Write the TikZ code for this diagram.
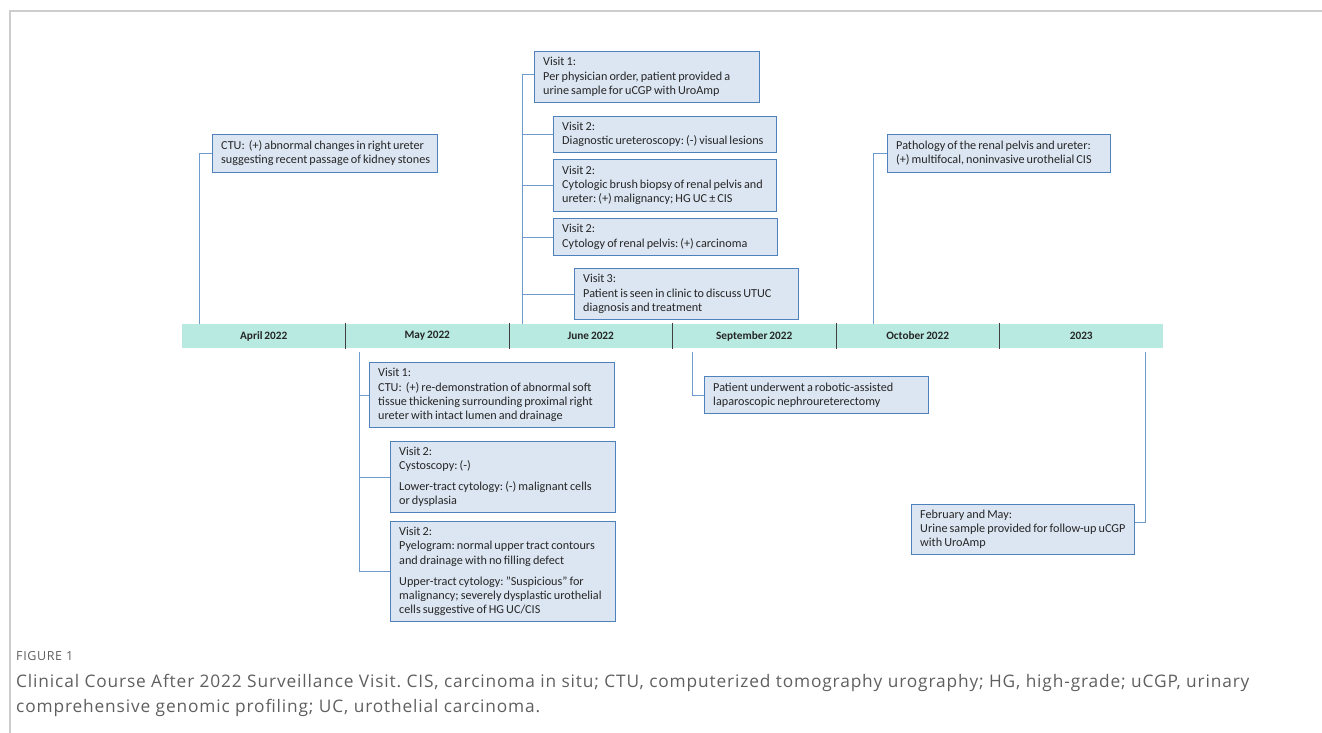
\documentclass[tikz,border=0pt]{standalone}
\usepackage{fontspec}
\setmainfont{Carlito}[WordSpace=0.75]
\newfontfamily\capfont{Open Sans}[LetterSpace=5]
\definecolor{barfill}{RGB}{184,234,226}
\definecolor{boxfill}{RGB}{220,230,242}
\definecolor{boxline}{RGB}{79,129,189}
\definecolor{connc}{RGB}{110,155,205}
\definecolor{framec}{RGB}{205,205,205}
\definecolor{captxt}{RGB}{95,95,95}
\frenchspacing
\newcommand\evbox[6]{%
  \node[evtbox, minimum width=#4pt, minimum height=#5pt] (#1) at (#2,#3) {};
  \node[evttext] (#1t) at ([xshift=9pt]#1.west) {#6};}
\begin{document}
\begin{tikzpicture}[x=1pt,y=-1pt,
  evtbox/.style={draw=boxline, fill=boxfill, line width=0.9pt, inner sep=0pt, anchor=north west},
  evttext/.style={anchor=west, inner sep=0pt, align=left, font=\fontsize{12.2}{14.2}\selectfont, text=black!85},
  month/.style={fill=barfill, minimum width=163.5pt, minimum height=24pt, inner sep=0pt, font=\bfseries\fontsize{11.3}{13}\selectfont, text=black!85},
  link/.style={draw=connc, line width=0.9pt},
  divider/.style={draw=black!75, line width=0.9pt},
  captext/.style={anchor=west, inner sep=0pt, text=captxt}]
\useasboundingbox (0,0) rectangle (1322,733);
\draw[framec, line width=1.2pt] (1322,11) -- (10,11) -- (10,733);

% timeline
\node[month] (apr) at (263.75,336) {April 2022};
\node[month] (may) at (427.25,336) {May 2022};
\node[month] (jun) at (590.75,336) {June 2022};
\node[month] (sep) at (754.25,336) {September 2022};
\node[month] (oct) at (917.75,336) {October 2022};
\node[month] (yr)  at (1081.25,336) {2023};
\foreach \m in {apr,may,jun,sep,oct}
  \draw[divider] ([yshift=1pt]\m.north east) -- ([yshift=-1pt]\m.south east);

% April
\evbox{ctu}{212}{134}{225}{38}{CTU:\ \ (+) abnormal changes in right ureter\\suggesting recent passage of kidney stones}
\coordinate (aprtop) at (199,324);
\draw[link] (aprtop) |- (ctu.west);

% June
\evbox{j1}{534}{51}{225}{51}{Visit 1:\\Per physician order, patient provided a\\urine sample for uCGP with UroAmp}
\evbox{j2}{553}{116}{223}{36}{Visit 2:\\Diagnostic ureteroscopy: (-) visual lesions}
\evbox{j3}{553}{159}{223}{52}{Visit 2:\\Cytologic brush biopsy of renal pelvis and\\ureter: (+) malignancy; HG UC ± CIS}
\evbox{j4}{553}{218}{224}{37}{Visit 2:\\Cytology of renal pelvis: (+) carcinoma}
\evbox{j5}{574}{268}{224}{51}{Visit 3:\\Patient is seen in clinic to discuss UTUC\\diagnosis and treatment}
\coordinate (juntop) at (522,324);
\draw[link] (juntop) |- ([yshift=2pt]j1.west);
\foreach \b in {j2,j3,j4,j5}
  \draw[link] (\b.west) -- (\b.west -| juntop);

% May
\evbox{m1}{369}{362}{245}{65}{Visit 1:\\CTU:\ \ (+) re-demonstration of abnormal soft\\tissue thickening surrounding proximal right\\ureter with intact lumen and drainage}
\evbox{m2}{390}{441}{225}{71}{Visit 2:\\Cystoscopy: (-)\\[7pt]Lower-tract cytology: (-) malignant cells\\or dysplasia}
\evbox{m3}{390}{521}{225}{100}{Visit 2:\\Pyelogram: normal upper tract contours\\and drainage with no filling defect\\[7pt]Upper-tract cytology: "Suspicious" for\\malignancy; severely dysplastic urothelial\\cells suggestive of HG UC/CIS}
\coordinate (maybot) at (359,352);
\draw[link] (maybot) |- (m3.west);
\foreach \b in {m1,m2}
  \draw[link] (\b.west) -- (\b.west -| maybot);

% September
\evbox{s1}{704}{376}{224}{37}{Patient underwent a robotic-assisted\\laparoscopic nephroureterectomy}
\coordinate (sepbot) at (692,352);
\draw[link] (sepbot) |- (s1.west);

% October
\evbox{o1}{887}{134}{223}{38}{Pathology of the renal pelvis and ureter:\\(+) multifocal, noninvasive urothelial CIS}
\coordinate (octtop) at (873,324);
\draw[link] (octtop) |- (o1.west);

% 2023
\evbox{y1}{911}{504}{223}{50}{February and May:\\Urine sample provided for follow-up uCGP\\with UroAmp}
\coordinate (yrbot) at (1145,352);
\draw[link] (yrbot) |- ([yshift=7pt]y1.east);

% caption
\node[captext, font=\capfont\fontsize{12.5}{14}\selectfont] (fig) at (16,656) {FIGURE 1};
\node[captext, font=\capfont\fontsize{17.3}{20}\selectfont] (cap1) at (16,683)
  {Clinical Course After 2022 Surveillance Visit. CIS, carcinoma in situ; CTU, computerized tomography urography; HG, high-grade; uCGP, urinary};
\node[captext, font=\capfont\fontsize{17.3}{20}\selectfont] (cap2) at (16,708)
  {comprehensive genomic profiling; UC, urothelial carcinoma.};
\end{tikzpicture}
\end{document}
